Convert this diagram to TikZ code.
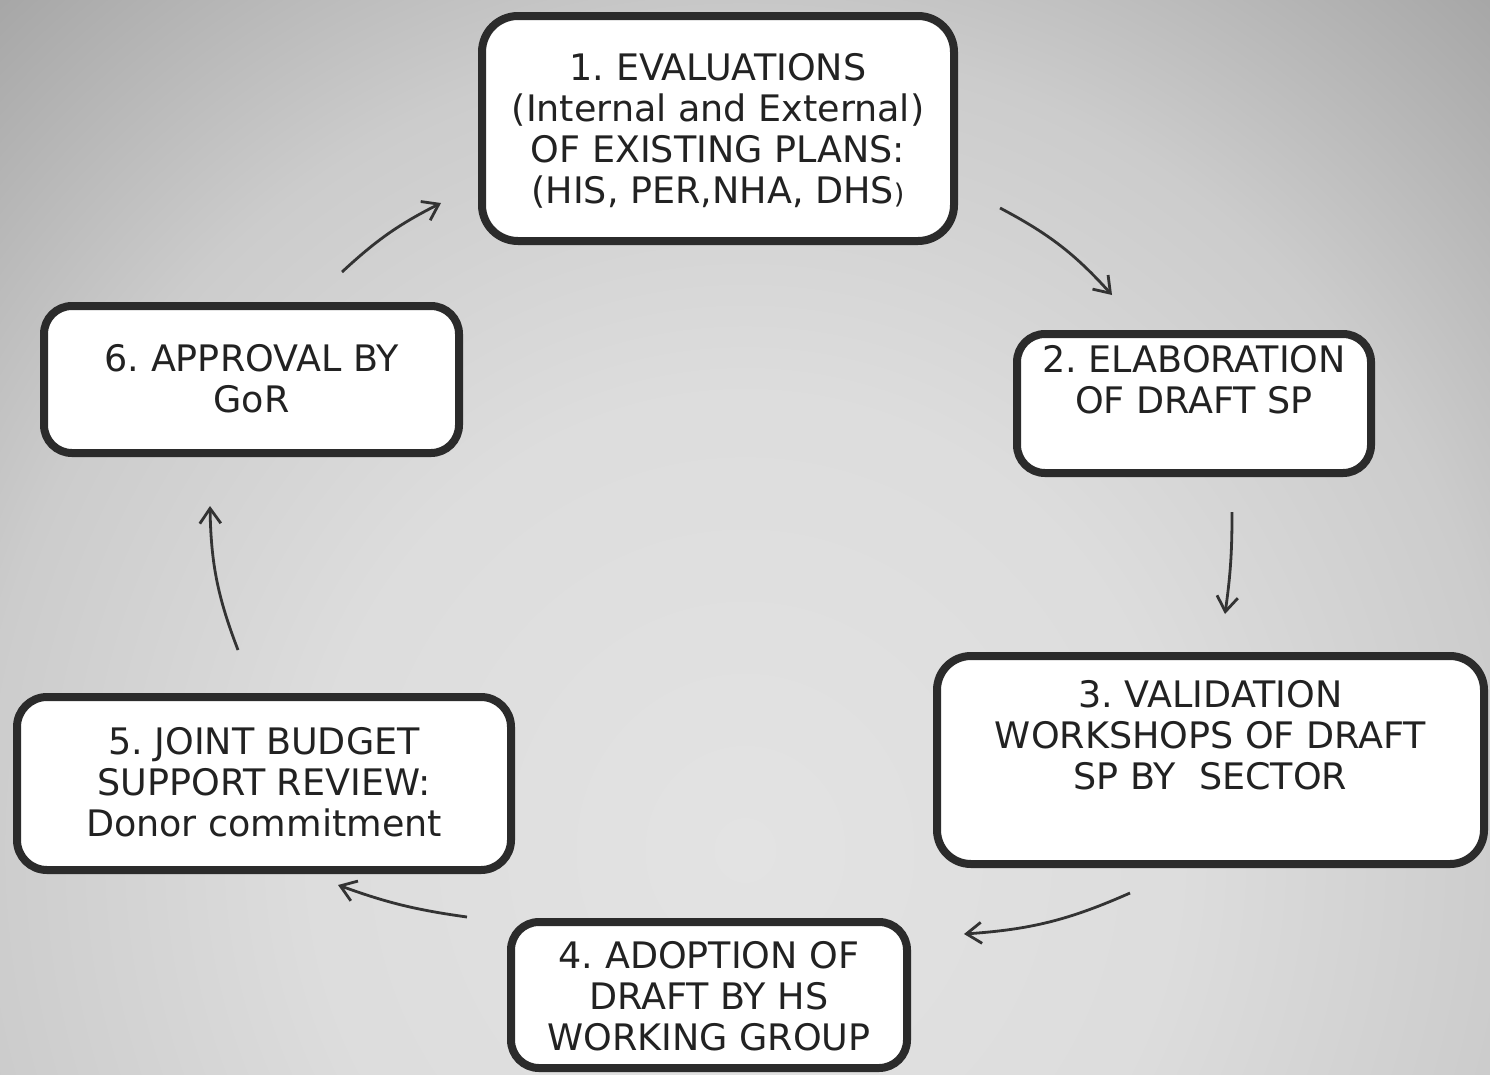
\documentclass[tikz,border=0pt]{standalone}
\usepackage{fontspec}
\setmainfont{DejaVu Sans}
\frenchspacing
\usetikzlibrary{arrows.meta}
\definecolor{bgA}{gray}{0.89}
\definecolor{bgB}{gray}{0.865}
\definecolor{bgC}{gray}{0.80}
\definecolor{bgD}{gray}{0.655}
\definecolor{edgec}{HTML}{2B2B2B}
\definecolor{txtc}{HTML}{222222}
\definecolor{arrowc}{HTML}{333333}
\pgfdeclareradialshading{bgshade}{\pgfpoint{0bp}{0bp}}{color(0bp)=(bgA); color(10bp)=(bgB); color(17.5bp)=(bgC); color(25bp)=(bgD); color(50bp)=(bgD)}
\newcommand{\boxtxt}[4]{\parbox[c][#2][t]{#1}{\centering\rule{0pt}{#3}#4}}
\tikzset{
  stagebox/.style={draw=edgec, line width=8pt, fill=white, inner sep=0pt, outer sep=0pt,
    text=txtc, font=\fontsize{36.5}{41}\selectfont},
  conn/.style={draw=arrowc, line width=2.8pt, -{Straight Barb[length=15pt,width=21pt]}}
}
\begin{document}
\begin{tikzpicture}[x=1pt,y=-1pt]
\useasboundingbox (0,0) rectangle (1490,1074);
\begin{scope}
\clip (0,0) rectangle (1490,1074);
\shade[shading=bgshade] (-355,-300) rectangle (1845,2000);
\end{scope}

\node[stagebox, rounded corners=36pt] (b1) at (718,128.5)
  {\boxtxt{472pt}{225pt}{64pt}{1. EVALUATIONS\\(Internal and External)\\OF EXISTING PLANS:\\(HIS, PER,NHA, DHS{\fontsize{27}{41}\selectfont)}}};
\node[stagebox, rounded corners=28pt] (b2) at (1194,403.5)
  {\boxtxt{354pt}{139pt}{38pt}{2. ELABORATION\\OF DRAFT SP}};
\node[stagebox, rounded corners=34pt] (b3) at (1210.5,760)
  {\boxtxt{547pt}{208pt}{51pt}{3. VALIDATION\\WORKSHOPS OF DRAFT\\SP BY\ \ SECTOR}};
\node[stagebox, rounded corners=28pt] (b4) at (709,995)
  {\boxtxt{396pt}{146pt}{46pt}{4. ADOPTION OF\\DRAFT BY HS\\WORKING GROUP}};
\node[stagebox, rounded corners=30pt] (b5) at (264,783.5)
  {\boxtxt{494pt}{173pt}{57pt}{5. JOINT BUDGET\\SUPPORT REVIEW:\\Donor commitment}};
\node[stagebox, rounded corners=28pt] (b6) at (251.5,379.5)
  {\boxtxt{415pt}{147pt}{65pt}{6. APPROVAL BY\\GoR}};

\coordinate (a1s) at (1000,208);
\coordinate (a1e) at (1112,295);
\coordinate (a2s) at (1232,512);
\coordinate (a2e) at (1225,614);
\coordinate (a3s) at (1130,893);
\coordinate (a3e) at (964,934);
\coordinate (a4s) at (467,917);
\coordinate (a4e) at (338,885);
\coordinate (a5s) at (238,650);
\coordinate (a5e) at (210,506);
\coordinate (a6s) at (342,272);
\coordinate (a6e) at (441,203);

\draw[conn] (a1s) to[bend left=10] (a1e);
\draw[conn] (a2s) to[bend left=4] (a2e);
\draw[conn] (a3s) to[bend left=10] (a3e);
\draw[conn] (a4s) to[bend left=6] (a4e);
\draw[conn] (a5s) to[bend left=10] (a5e);
\draw[conn] (a6s) to[bend left=8] (a6e);
\end{tikzpicture}
\end{document}
